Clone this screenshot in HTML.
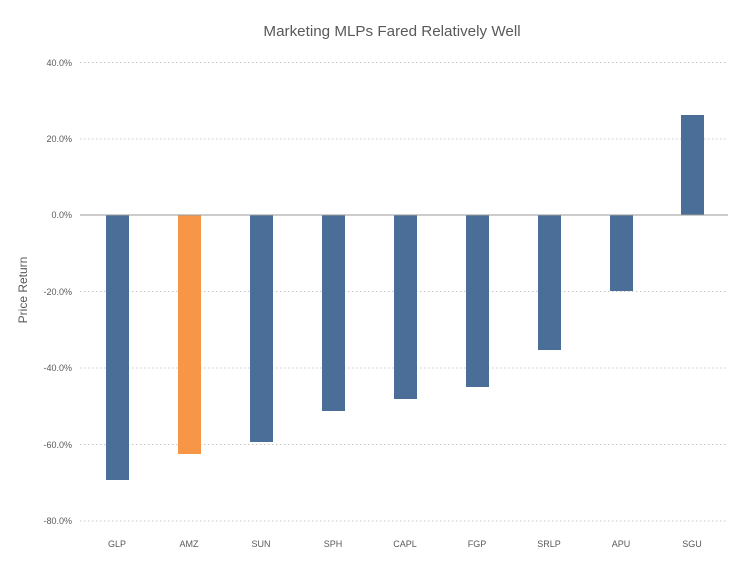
<!DOCTYPE html>
<html><head><style>body{margin:0;background:#fff}svg{display:block}text{font-family:"Liberation Sans",sans-serif}</style></head><body>
<svg width="750" height="568" xmlns="http://www.w3.org/2000/svg">
<text x="392" y="36" font-size="15.2" fill="#595959" text-anchor="middle">Marketing MLPs Fared Relatively Well</text>
<g stroke="#c8c8c8" stroke-dasharray="1.5,2.5" stroke-width="1">
<line x1="80" x2="728" y1="62.5" y2="62.5"/>
<line x1="80" x2="728" y1="139" y2="139"/>
<line x1="80" x2="728" y1="291.5" y2="291.5"/>
<line x1="80" x2="728" y1="368" y2="368"/>
<line x1="80" x2="728" y1="444.5" y2="444.5"/>
<line x1="80" x2="728" y1="521" y2="521"/>
</g>
<g font-size="9" fill="#595959" text-anchor="end">
<text x="72" y="66">40.0%</text>
<text x="72" y="142">20.0%</text>
<text x="72" y="218">0.0%</text>
<text x="72" y="295">-20.0%</text>
<text x="72" y="371">-40.0%</text>
<text x="72" y="448">-60.0%</text>
<text x="72" y="524">-80.0%</text>
</g>
<text transform="translate(27,290) rotate(-90)" font-size="12" fill="#595959" text-anchor="middle">Price Return</text>
<g fill="#4a6e98">
<rect x="106" y="215" width="23" height="265"/>
<rect x="250" y="215" width="23" height="227"/>
<rect x="322" y="215" width="23" height="196"/>
<rect x="394" y="215" width="23" height="184"/>
<rect x="466" y="215" width="23" height="172"/>
<rect x="538" y="215" width="23" height="135"/>
<rect x="610" y="215" width="23" height="76"/>
<rect x="681" y="115" width="23" height="100"/>
</g>
<rect x="178" y="215" width="23" height="239" fill="#f79646"/>
<line x1="80" x2="728" y1="215" y2="215" stroke="#999" stroke-width="1"/>
<g font-size="9" fill="#595959" text-anchor="middle">
<text x="117" y="547">GLP</text>
<text x="189" y="547">AMZ</text>
<text x="261" y="547">SUN</text>
<text x="333" y="547">SPH</text>
<text x="405" y="547">CAPL</text>
<text x="477" y="547">FGP</text>
<text x="549" y="547">SRLP</text>
<text x="621" y="547">APU</text>
<text x="692" y="547">SGU</text>
</g>
</svg>
</body></html>
